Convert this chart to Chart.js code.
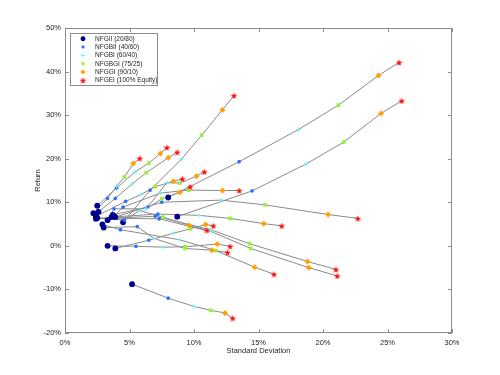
<!DOCTYPE html>
<html>
<head>
<meta charset="utf-8">
<script src="https://cdn.jsdelivr.net/npm/chart.js@4.4.1/dist/chart.umd.min.js"></script>
<style>
html,body{margin:0;padding:0;background:#fff}
#wrap{width:500px;height:375px}
</style>
</head>
<body>
<div id="wrap"><canvas id="myChart"></canvas></div>
<script>
const funds = ['NFGII (20/80)','NFGBII (40/60)','NFGBI (60/40)','NFGBGI (75/25)','NFGGI (90/10)','NFGEI (100% Equity)']
const xTicks = [0,5,10,15,20,25,30]
const yTicks = [-20,-10,0,10,20,30,40,50]

// standard deviation (%) per fund, one value per period (same index = same period)
const sdII   = [8.0,8.7,4.5,2.5,2.6,2.2,2.4,3.7,3.3,3.8,3.9,3.6,3.9,2.4,3.3,3.0,2.9,2.4,2.5,5.2]
const sdBII  = [13.5,14.5,6.6,4.0,3.9,3.3,4.7,6.4,3.8,4.5,7.5,7.2,6.5,4.6,5.5,5.6,4.3,7.0,7.3,8.0]
const sdBI   = [18.1,18.7,9.0,5.4,5.2,4.0,5.9,7.9,6.3,7.4,12.1,10.4,8.4,5.8,7.6,6.9,8.9,11.3,11.4,10.0]
const sdBGI  = [21.2,21.6,10.6,6.5,6.3,4.6,7.0,8.9,7.5,9.6,15.5,12.8,9.7,7.6,9.3,9.3,11.7,14.3,14.4,11.3]
const sdGI   = [24.3,24.5,12.2,7.4,8.0,5.3,8.4,10.2,8.9,12.2,20.4,15.4,10.9,9.6,11.8,11.4,14.7,18.8,18.9,12.4]
const sdEI   = [25.9,26.1,13.1,7.9,8.7,5.8,9.1,10.8,9.7,13.5,22.7,16.8,11.5,11.0,12.8,12.6,16.2,21.0,21.1,13.0]

// return (%) per fund
const retII  = [11.1,6.7,5.4,9.2,7.8,7.5,6.8,7.1,5.9,6.8,6.6,6.6,-0.6,6.5,0.0,4.2,4.9,6.2,6.4,-8.8]
const retBII = [19.3,12.6,12.8,13.3,10.9,10.9,10.2,8.9,8.5,8.9,10.0,7.3,1.3,5.9,-0.1,4.4,3.7,6.8,6.2,-12.0]
const retBI  = [26.7,18.8,19.8,16.9,14.2,13.7,11.8,14.5,8.5,12.1,10.5,7.0,2.9,8.1,-0.3,1.7,1.4,3.7,3.2,-13.9]
const retBGI = [32.3,23.8,25.4,19.0,16.8,15.8,13.6,14.4,10.8,12.8,9.4,6.3,3.9,6.6,-0.2,-0.6,-1.1,0.5,-0.6,-14.8]
const retGI  = [39.1,30.4,31.2,21.2,20.2,18.9,14.8,16.0,12.3,12.7,7.2,5.1,4.9,4.7,0.4,-1.0,-4.9,-3.6,-5.0,-15.4]
const retEI  = [42.1,33.3,34.5,22.6,21.5,20.1,15.4,17.0,13.6,12.7,6.3,4.6,4.6,3.6,-0.1,-1.5,-6.5,-5.4,-6.9,-16.6]

const sdAll = [sdII,sdBII,sdBI,sdBGI,sdGI,sdEI]
const retAll = [retII,retBII,retBI,retBGI,retGI,retEI]

// red filled pentagram, like the matlab 'p' marker
function pentagram(size, color){
  let c=document.createElement('canvas')
  c.width=size;c.height=size
  let g=c.getContext('2d'), r=size/2, ri=r*0.45
  g.fillStyle=color
  g.beginPath()
  for(let i=0;i<10;i++){
    let a=-Math.PI/2+i*Math.PI/5, rr=i%2?ri:r
    g.lineTo(r+rr*Math.cos(a), r+rr*Math.sin(a)+0.4)
  }
  g.closePath();g.fill()
  return c
}

const markers = [
  {pointStyle:'circle', radius:2.9, backgroundColor:'#00008f', borderColor:'#00008f', borderWidth:0},
  {pointStyle:'star', radius:1.8, backgroundColor:'#2f6fff', borderColor:'#2f6fff', borderWidth:1.1},
  {pointStyle:'cross', radius:2.2, backgroundColor:'#6ff2ff', borderColor:'#6ff2ff', borderWidth:1},
  {pointStyle:'rect', radius:2.6, backgroundColor:'#99f03a', borderColor:'#99f03a', borderWidth:0},
  {pointStyle:'rectRot', radius:2.7, backgroundColor:'#ffa100', borderColor:'#ffa100', borderWidth:0.6},
  {pointStyle:pentagram(7,'#ff1010'), radius:3.5, backgroundColor:'#ff1010', borderColor:'#ff1010', borderWidth:0}
]

let datasets=[]
// gray connecting lines, one per period
for(let i=0;i<sdII.length;i++){
  datasets.push({
    data: sdAll.map((s,k)=>({x:s[i], y:retAll[k][i]})),
    showLine:true, borderColor:'#8a8a8a', borderWidth:1, pointRadius:0, order:10
  })
}
funds.forEach((f,k)=>{
  let m=markers[k]
  datasets.push({
    label:f,
    data: sdAll[k].map((s,i)=>({x:s, y:retAll[k][i]})),
    showLine:false,
    pointStyle:m.pointStyle, pointRadius:m.radius,
    pointBackgroundColor:m.backgroundColor, pointBorderColor:m.borderColor,
    pointBorderWidth:m.borderWidth, order:k==5?0:5-k
  })
})

const font = {family:'"Liberation Sans", Arial, sans-serif', size:7.5}

const matlabBox = {
  id:'matlabBox',
  afterDraw(chart){
    let ctx=chart.ctx, a=chart.chartArea, xs=chart.scales.x, ys=chart.scales.y
    ctx.save()
    ctx.strokeStyle='#8c8c8c'; ctx.lineWidth=1
    ctx.strokeRect(a.left+0.5,a.top+0.5,a.right-a.left-1,a.bottom-a.top-1)
    ctx.beginPath()
    xTicks.forEach(v=>{
      let x=Math.round(xs.getPixelForValue(v))+0.5
      ctx.moveTo(x,a.bottom);ctx.lineTo(x,a.bottom-4)
      ctx.moveTo(x,a.top);ctx.lineTo(x,a.top+4)
    })
    yTicks.forEach(v=>{
      let y=Math.round(ys.getPixelForValue(v))+0.5
      ctx.moveTo(a.left,y);ctx.lineTo(a.left+4,y)
      ctx.moveTo(a.right,y);ctx.lineTo(a.right-4,y)
    })
    ctx.stroke()
    // axis titles
    ctx.fillStyle='#262626'
    ctx.font='7.5px "Liberation Sans", Arial, sans-serif'
    ctx.textAlign='center';ctx.textBaseline='middle'
    ctx.fillText('Standard Deviation',(a.left+a.right)/2,351)
    ctx.translate(38,(a.top+a.bottom)/2);ctx.rotate(-Math.PI/2)
    ctx.fillText('Return',0,0)
    ctx.restore()

    // legend box
    ctx.save()
    let lx=70.5, ly=33.5, lw=87, lh=52
    ctx.fillStyle='#fff';ctx.fillRect(lx,ly,lw,lh)
    ctx.strokeStyle='#8c8c8c';ctx.strokeRect(lx,ly,lw,lh)
    ctx.font='6.5px "Liberation Sans", Arial, sans-serif'
    ctx.textBaseline='middle';ctx.textAlign='left';ctx.fillStyle='#262626'
    funds.forEach((f,k)=>{
      let y=38.7+k*8.33, m=markers[k]
      ctx.fillStyle=m.backgroundColor;ctx.strokeStyle=m.borderColor;ctx.lineWidth=m.borderWidth||0.01
      Chart.helpers.drawPoint(ctx,{pointStyle:m.pointStyle,radius:m.radius*0.85,rotation:0,borderWidth:m.borderWidth},83,y)
      ctx.fillStyle='#262626'
      ctx.fillText(f,95,y+0.3)
    })
    ctx.restore()
  }
}

new Chart(document.getElementById('myChart'),{
  type:'scatter',
  data:{datasets},
  options:{
    responsive:true, maintainAspectRatio:false, animation:false,
    layout:{padding:{left:0,right:48,top:28,bottom:0}},
    plugins:{legend:{display:false},tooltip:{enabled:false}},
    scales:{
      x:{
        type:'linear', min:0, max:30,
        afterBuildTicks(s){s.ticks=xTicks.map(v=>({value:v}))},
        afterFit(s){s.height=42},
        grid:{display:false,drawTicks:false},
        border:{display:false},
        ticks:{font, color:'#262626', padding:5, maxRotation:0, callback:v=>v+'%'}
      },
      y:{
        type:'linear', min:-20, max:50,
        afterBuildTicks(s){s.ticks=yTicks.map(v=>({value:v}))},
        afterFit(s){s.width=65},
        grid:{display:false,drawTicks:false},
        border:{display:false},
        ticks:{font, color:'#262626', padding:4, callback:v=>v+'%'}
      }
    }
  },
  plugins:[matlabBox]
})
</script>
</body>
</html>
